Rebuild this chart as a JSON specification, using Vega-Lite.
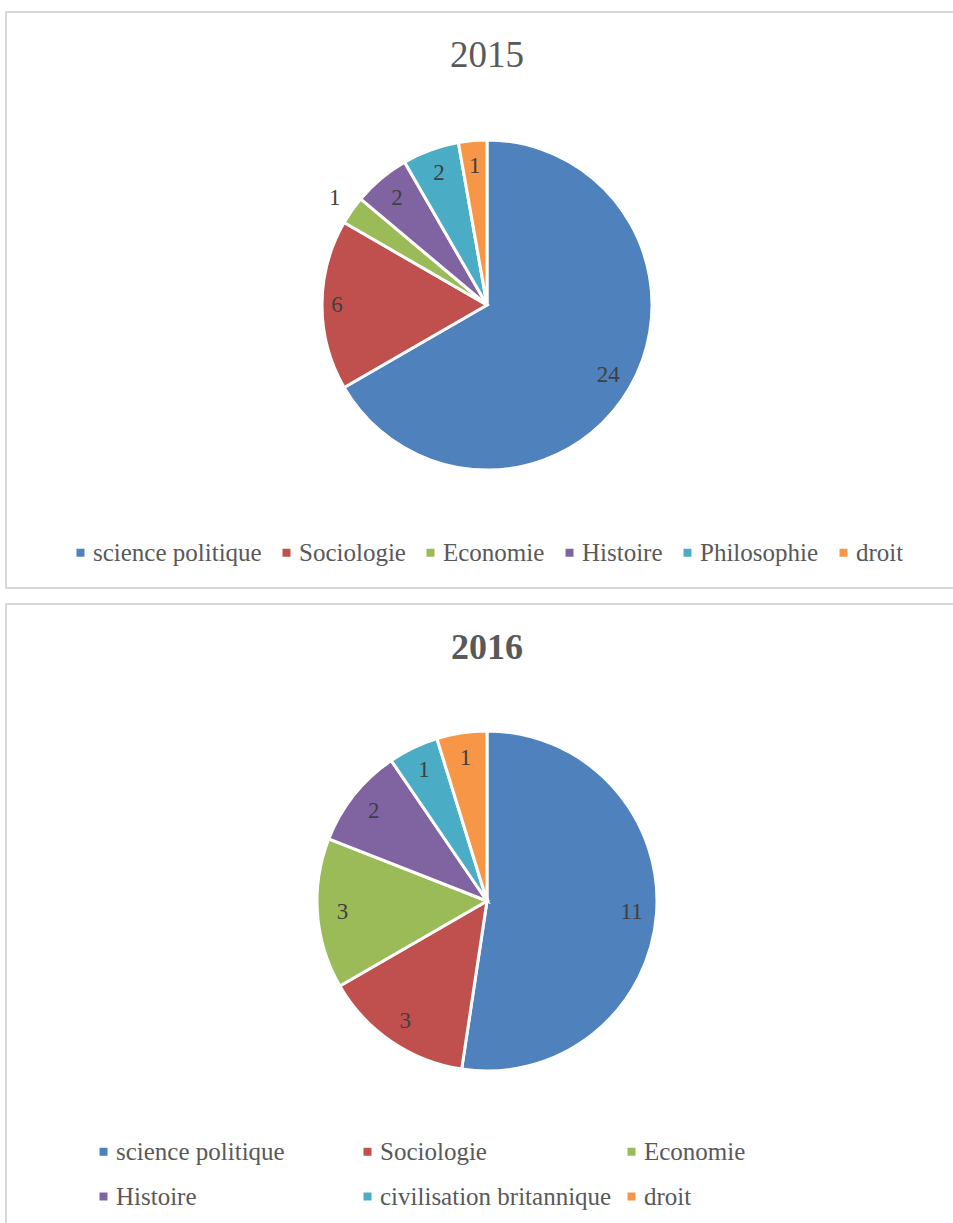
{
  "$schema": "https://vega.github.io/schema/vega-lite/v6.json",
  "padding": {"left": 5, "top": 11, "right": 0, "bottom": 0},
  "background": "white",
  "config": {
    "view": {"stroke": "#d9d9d9", "strokeWidth": 2},
    "font": "Liberation Serif"
  },
  "spacing": 14,
  "resolve": {"scale": {"color": "independent", "theta": "independent", "x": "independent", "y": "independent"}, "legend": {"color": "independent"}},
  "vconcat": [
    {
      "name": "p2015",
      "width": 962,
      "height": 576,
      "view": {"stroke": "#d9d9d9", "strokeWidth": 2},
      "title": {"text": "2015", "fontSize": 37, "fontWeight": "normal", "color": "#595959", "font": "Liberation Serif", "offset": -92, "baseline": "alphabetic"},
      "data": {"values": [
        {"discipline": "science politique", "n": 24, "ordre": 1},
        {"discipline": "Sociologie", "n": 6, "ordre": 2},
        {"discipline": "Economie", "n": 1, "ordre": 3},
        {"discipline": "Histoire", "n": 2, "ordre": 4},
        {"discipline": "Philosophie", "n": 2, "ordre": 5},
        {"discipline": "droit", "n": 1, "ordre": 6}
      ]},
      "layer": [
        {
          "mark": {"type": "point", "opacity": 0, "size": 1},
          "encoding": {
            "x": {"datum": 0.5, "type": "quantitative", "axis": null, "scale": {"domain": [0, 1]}},
            "y": {"datum": 0.5, "type": "quantitative", "axis": null, "scale": {"domain": [0, 1]}}
          }
        },
        {
          "mark": {"type": "arc", "outerRadius": 165, "stroke": "white", "strokeWidth": 3, "y": 293},
          "encoding": {
            "theta": {"field": "n", "type": "quantitative", "stack": true},
            "order": {"field": "ordre", "type": "quantitative"},
            "color": {
              "field": "discipline", "type": "nominal",
              "scale": {"domain": ["science politique", "Sociologie", "Economie", "Histoire", "Philosophie", "droit"],
                        "range": ["#4F81BD", "#C0504D", "#9BBB59", "#8064A2", "#4BACC6", "#F79646"]},
              "legend": {"orient": "none", "legendX": 62, "legendY": 528, "direction": "horizontal", "columns": 6,
                         "title": null, "symbolType": "square", "symbolSize": 64, "symbolStrokeWidth": 0,
                         "labelFontSize": 25, "labelColor": "#595959", "labelFont": "Liberation Serif",
                         "labelOffset": 0, "columnPadding": 12, "padding": 0, "labelLimit": 400}
            }
          }
        },
        {
          "mark": {"type": "text", "radius": 140, "fontSize": 23, "color": "#404040", "font": "Liberation Serif", "y": 293},
          "encoding": {
            "theta": {"field": "n", "type": "quantitative", "stack": true},
            "order": {"field": "ordre", "type": "quantitative"},
            "text": {"condition": {"test": "datum.discipline !== 'Economie' && datum.discipline !== 'Sociologie'", "field": "n", "type": "quantitative"}, "value": ""}
          }
        },
        {
          "mark": {"type": "text", "radius": 150, "fontSize": 23, "color": "#404040", "font": "Liberation Serif", "y": 293},
          "encoding": {
            "theta": {"field": "n", "type": "quantitative", "stack": true},
            "order": {"field": "ordre", "type": "quantitative"},
            "text": {"condition": {"test": "datum.discipline === 'Sociologie'", "field": "n", "type": "quantitative"}, "value": ""}
          }
        },
        {
          "mark": {"type": "text", "radius": 186, "fontSize": 23, "color": "#404040", "font": "Liberation Serif", "y": 293},
          "encoding": {
            "theta": {"field": "n", "type": "quantitative", "stack": true},
            "order": {"field": "ordre", "type": "quantitative"},
            "text": {"condition": {"test": "datum.discipline === 'Economie'", "field": "n", "type": "quantitative"}, "value": ""}
          }
        }
      ]
    },
    {
      "name": "p2016",
      "width": 962,
      "height": 640,
      "view": {"stroke": "#d9d9d9", "strokeWidth": 2},
      "title": {"text": "2016", "fontSize": 36, "fontWeight": "bold", "color": "#595959", "font": "Liberation Serif", "offset": -91, "baseline": "alphabetic"},
      "data": {"values": [
        {"discipline": "science politique", "n": 11, "ordre": 1},
        {"discipline": "Sociologie", "n": 3, "ordre": 2},
        {"discipline": "Economie", "n": 3, "ordre": 3},
        {"discipline": "Histoire", "n": 2, "ordre": 4},
        {"discipline": "civilisation britannique", "n": 1, "ordre": 5},
        {"discipline": "droit", "n": 1, "ordre": 6}
      ]},
      "layer": [
        {
          "mark": {"type": "point", "opacity": 0, "size": 1},
          "encoding": {
            "x": {"datum": 0.5, "type": "quantitative", "axis": null, "scale": {"domain": [0, 1]}},
            "y": {"datum": 0.5, "type": "quantitative", "axis": null, "scale": {"domain": [0, 1]}}
          }
        },
        {
          "mark": {"type": "arc", "outerRadius": 170, "stroke": "white", "strokeWidth": 3, "y": 297},
          "encoding": {
            "theta": {"field": "n", "type": "quantitative", "stack": true},
            "order": {"field": "ordre", "type": "quantitative"},
            "color": {
              "field": "discipline", "type": "nominal",
              "scale": {"domain": ["science politique", "Sociologie", "Economie", "Histoire", "civilisation britannique", "droit"],
                        "range": ["#4F81BD", "#C0504D", "#9BBB59", "#8064A2", "#4BACC6", "#F79646"]},
              "legend": {"orient": "none", "legendX": 85, "legendY": 535, "direction": "horizontal", "columns": 3, "gridAlign": "all",
                         "title": null, "symbolType": "square", "symbolSize": 64, "symbolStrokeWidth": 0,
                         "labelFontSize": 25, "labelColor": "#595959", "labelFont": "Liberation Serif",
                         "labelOffset": 0, "columnPadding": 7, "rowPadding": 19, "padding": 0, "labelLimit": 400}
            }
          }
        },
        {
          "mark": {"type": "text", "radius": 145, "fontSize": 23, "color": "#404040", "font": "Liberation Serif", "y": 297},
          "encoding": {
            "theta": {"field": "n", "type": "quantitative", "stack": true},
            "order": {"field": "ordre", "type": "quantitative"},
            "text": {"field": "n", "type": "quantitative"}
          }
        }
      ]
    }
  ]
}
